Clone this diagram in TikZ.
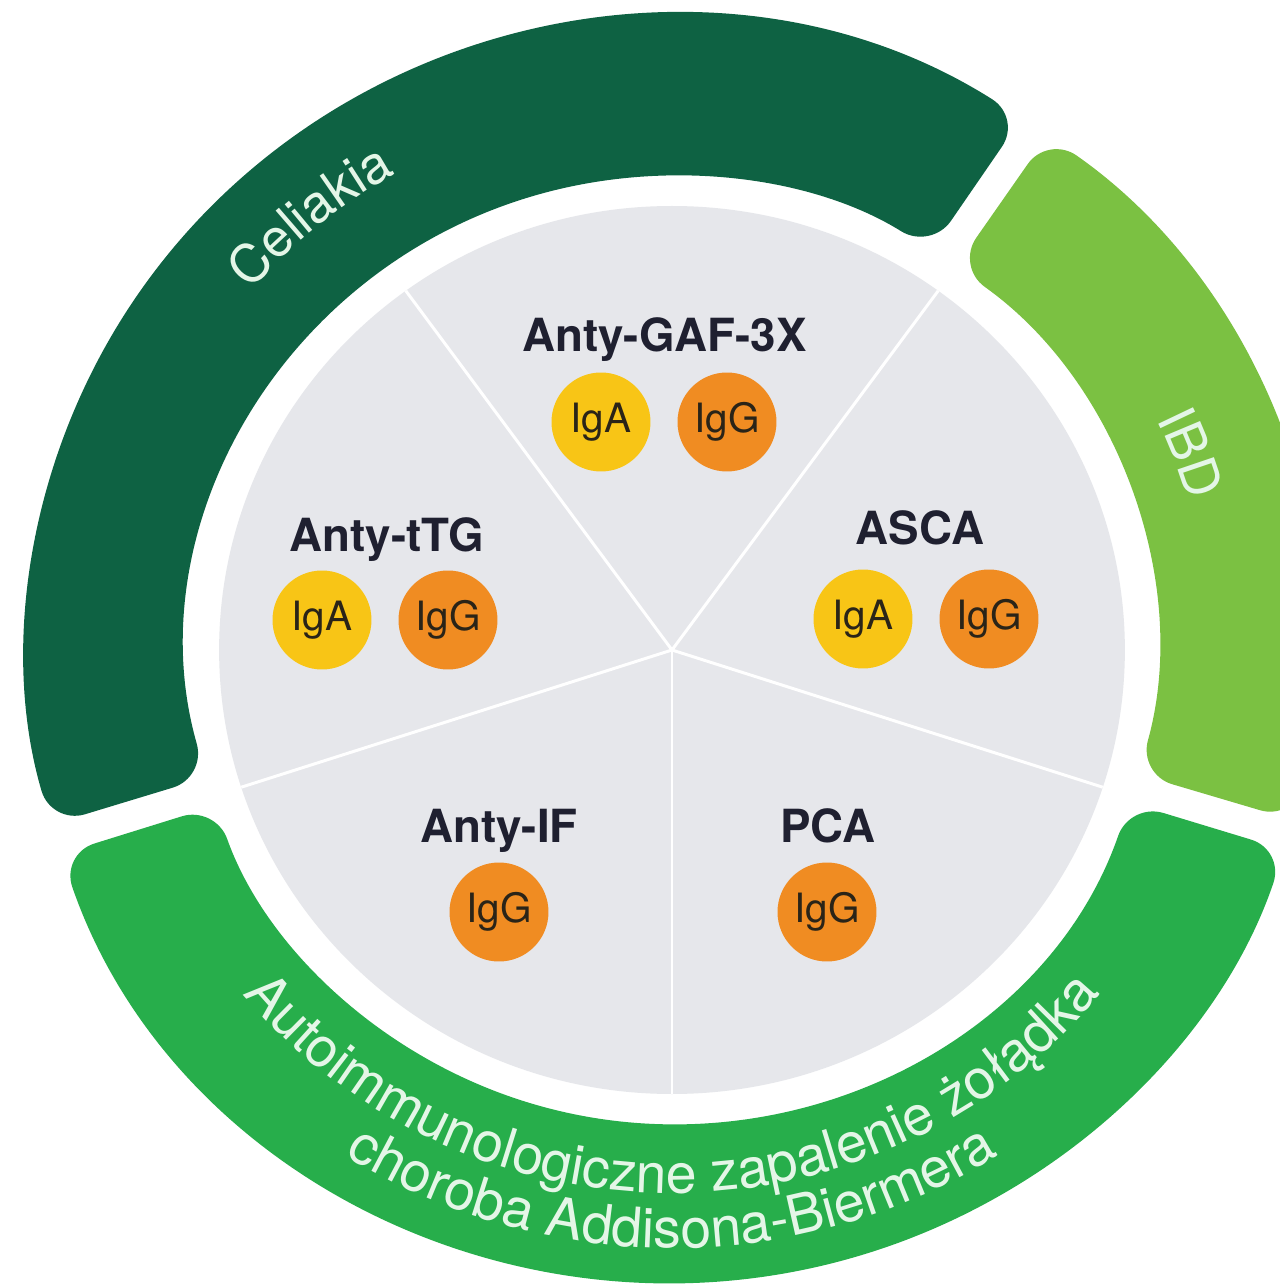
\documentclass[tikz,border=0pt]{standalone}
\usepackage{fontspec}
\setmainfont{TeX Gyre Heros}
\usetikzlibrary{decorations.text}

\definecolor{celiac}{HTML}{0E6243}
\definecolor{ibd}{HTML}{7BC142}
\definecolor{gastric}{HTML}{27AE4B}
\definecolor{pie}{HTML}{E6E7EB}
\definecolor{ringtext}{HTML}{E4F6E7}
\definecolor{titletext}{HTML}{1F2030}
\definecolor{iga}{HTML}{F8C516}
\definecolor{igg}{HTML}{F08C22}
\definecolor{igtext}{HTML}{2A2418}

\newcommand{\ringfont}{\fontsize{30}{34}\selectfont}
\newcommand{\lowringfont}{\fontsize{31.5}{36}\selectfont}
\newcommand{\titlefont}{\fontsize{26}{30}\selectfont\bfseries}
\newcommand{\igfont}{\fontsize{23}{26}\selectfont}

\begin{document}
\begin{tikzpicture}[x=0.02cm,y=0.02cm,
	title/.style={font=\titlefont, text=titletext, inner sep=0pt, anchor=base},
	ig/.style={circle, minimum size=1.98cm, inner sep=0pt, font=\igfont, text=igtext},
	spoke/.style={white, line width=1.7pt},
	ringlabel/.style={decorate, decoration={text along path, text align=center, text color=ringtext}}]

	\useasboundingbox[fill=white] (-672,-635) rectangle (607,650);

	\begin{scope}[xscale=1.02]
	% outer ring
	\fill[celiac, rounded corners=20] (57.2:633) arc[start angle=57.2, end angle=196, radius=633] -- (195.6:474) arc[start angle=195.6, end angle=57.6, radius=474] -- cycle;
	\fill[ibd, rounded corners=20] (-15.6:633) arc[start angle=-15.6, end angle=54.4, radius=633] -- (54:474) arc[start angle=54, end angle=-15.2, radius=474] -- cycle;
	\fill[gastric, rounded corners=20] (198.8:633) arc[start angle=198.8, end angle=341.6, radius=633] -- (341.2:474) arc[start angle=341.2, end angle=199.2, radius=474] -- cycle;

	% pie with five sectors
	\fill[pie] (0,0) circle[radius=444];
	\foreach \a in {-90,-18,54,126,198}
		\draw[spoke] (0,0) -- (\a:444);

	% ring labels
	\path[ringlabel, decoration={text={|\ringfont|Celiakia}}] (169.5:548) arc[start angle=169.5, end angle=89.5, radius=548];
	\path[ringlabel, decoration={text={|\ringfont|IBD}}] (51:528) arc[start angle=51, end angle=-9, radius=528];
	\path[ringlabel, decoration={text={|\lowringfont|Autoimmunologiczne zapalenie żołądka}}] (200:543) arc[start angle=200, end angle=340, radius=543];
	\path[ringlabel, decoration={text={|\lowringfont|choroba Addisona-Biermera}}] (210:598) arc[start angle=210, end angle=330, radius=598];
	\end{scope}

	\node[title] (gaf) at (-7.5,298) {Anty-GAF-3X};
	\node[ig, fill=iga] (gafA) at (-71,228) {IgA};
	\node[ig, fill=igg] (gafG) at (55,228) {IgG};

	\node[title] (ttg) at (-285,98) {Anty-tTG};
	\node[ig, fill=iga] (ttgA) at (-350,30) {IgA};
	\node[ig, fill=igg] (ttgG) at (-224,30) {IgG};

	\node[title] (asca) at (248,105) {ASCA};
	\node[ig, fill=iga] (ascaA) at (191,31) {IgA};
	\node[ig, fill=igg] (ascaG) at (317,31) {IgG};

	\node[title] (antyif) at (-173,-192) {Anty-IF};
	\node[ig, fill=igg] (antyifG) at (-173,-262) {IgG};

	\node[title] (pca) at (156,-192) {PCA};
	\node[ig, fill=igg] (pcaG) at (155,-262) {IgG};

\end{tikzpicture}
\end{document}
